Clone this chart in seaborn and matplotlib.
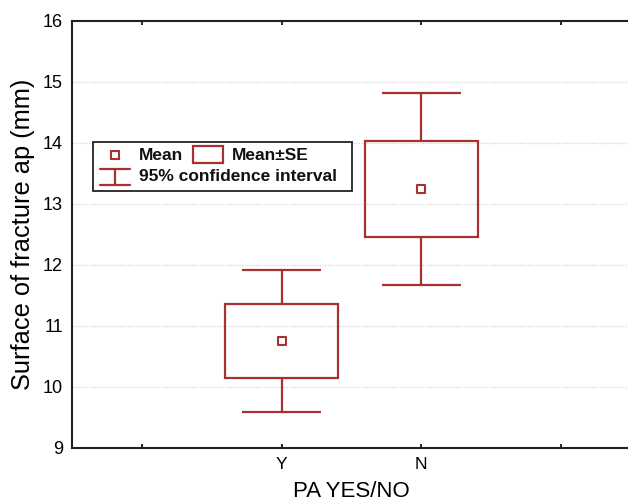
import numpy as np
import pandas as pd
import matplotlib
matplotlib.use("Agg")
import matplotlib.pyplot as plt
import seaborn as sns
from matplotlib.patches import Rectangle
from matplotlib.lines import Line2D

# ---- data ----
groups = ["Y", "N"]
means = [10.75, 13.24]
se = [0.60, 0.79]
ci95 = [1.17, 1.57]
y_ticks = [9, 10, 11, 12, 13, 14, 15, 16]
x_label = "PA YES/NO"
y_label = "Surface of fracture ap (mm)"
legend_labels = ["Mean", "Mean\u00b1SE", "95% confidence interval"]

sns.set_theme(style="white")
plt.rcParams['font.family'] = ['Liberation Sans', 'DejaVu Sans']

RED = "#a8302f"
W, H = 628, 503
fig = plt.figure(figsize=(W / 100, H / 100), dpi=100)
ax = fig.add_axes([72 / W, 1 - 447.7 / H, (631 - 72) / W, (447.7 - 20.7) / H])

x = np.arange(len(groups)) + 1
m = np.array(means)
s = np.array(se)
c = np.array(ci95)
df = pd.DataFrame({"x": x, "mean": m, "group": groups})

# grid
for yv in y_ticks[1:-1]:
    ax.axhline(yv, color="#d9d9d9", lw=1.0, ls=(0, (1, 1)), zorder=0)

# SE boxes
ax.bar(x, 2 * s, bottom=m - s, width=0.81, fill=False, edgecolor=RED, lw=1.6, zorder=2)
# CI whiskers
ax.vlines(x, m + s, m + c, color=RED, lw=1.6, zorder=2)
ax.vlines(x, m - c, m - s, color=RED, lw=1.6, zorder=2)
ax.hlines(m + c, x - 0.28, x + 0.28, color=RED, lw=1.6, zorder=2)
ax.hlines(m - c, x - 0.28, x + 0.28, color=RED, lw=1.6, zorder=2)
# means
sns.scatterplot(data=df, x="x", y="mean", marker="s", s=26, facecolor="white",
                edgecolor=RED, linewidth=1.5, ax=ax, zorder=3, legend=False)

ax.set_xlim(-0.5, len(groups) + 1.5)
ax.set_ylim(y_ticks[0], y_ticks[-1])
ax.set_xticks(np.arange(len(groups) + 2))
ax.set_xticklabels([""] + groups + [""], fontsize=12.5)
ax.set_yticks(y_ticks)
ax.set_yticklabels([str(v) for v in y_ticks], fontsize=13)
ax.tick_params(axis="x", direction="in", length=3, width=1.2, color="black",
               top=True, bottom=True, pad=7, labelcolor="black")
ax.tick_params(axis="y", length=0, pad=6.5, labelcolor="black")
ax.set_xlabel(x_label, fontsize=16, color="black", labelpad=6)
ax.set_ylabel(y_label, fontsize=18.3, color="black", labelpad=6)
for sp in ax.spines.values():
    sp.set_color("#222222")
    sp.set_linewidth(1.5)

# manual legend (figure pixel coordinates)
def fx(px):
    return px / W

def fy(py):
    return 1 - py / H

tf = fig.transFigure
fig.patches.append(Rectangle((fx(93), fy(191)), fx(352) - fx(93), fy(142) - fy(191),
                             transform=tf, fill=True, facecolor="white",
                             edgecolor="#222222", lw=1.3, zorder=5))
fig.lines.append(Line2D([fx(115)], [fy(155)], marker="s", markersize=5.5,
                        markerfacecolor="white", markeredgecolor=RED,
                        markeredgewidth=1.5, transform=tf, zorder=6))
fig.patches.append(Rectangle((fx(193), fy(163)), fx(223) - fx(193), fy(146) - fy(163),
                             transform=tf, fill=False, edgecolor=RED, lw=1.6, zorder=6))
for seg in ([(100, 185), (130, 185)], [(115, 185), (115, 169)], [(100, 169), (130, 169)]):
    fig.lines.append(Line2D([fx(seg[0][0]), fx(seg[1][0])], [fy(seg[0][1]), fy(seg[1][1])],
                            color=RED, lw=1.6, transform=tf, zorder=6))
fig.text(fx(139), fy(155), legend_labels[0], fontsize=12.5, fontweight="bold",
         va="center", ha="left", color="#111111", zorder=7)
fig.text(fx(232), fy(155), legend_labels[1], fontsize=12.5, fontweight="bold",
         va="center", ha="left", color="#111111", zorder=7)
fig.text(fx(139), fy(177), legend_labels[2], fontsize=12.5, fontweight="bold",
         va="center", ha="left", color="#111111", zorder=7)

fig.savefig("out.png", dpi=100, facecolor="white")
